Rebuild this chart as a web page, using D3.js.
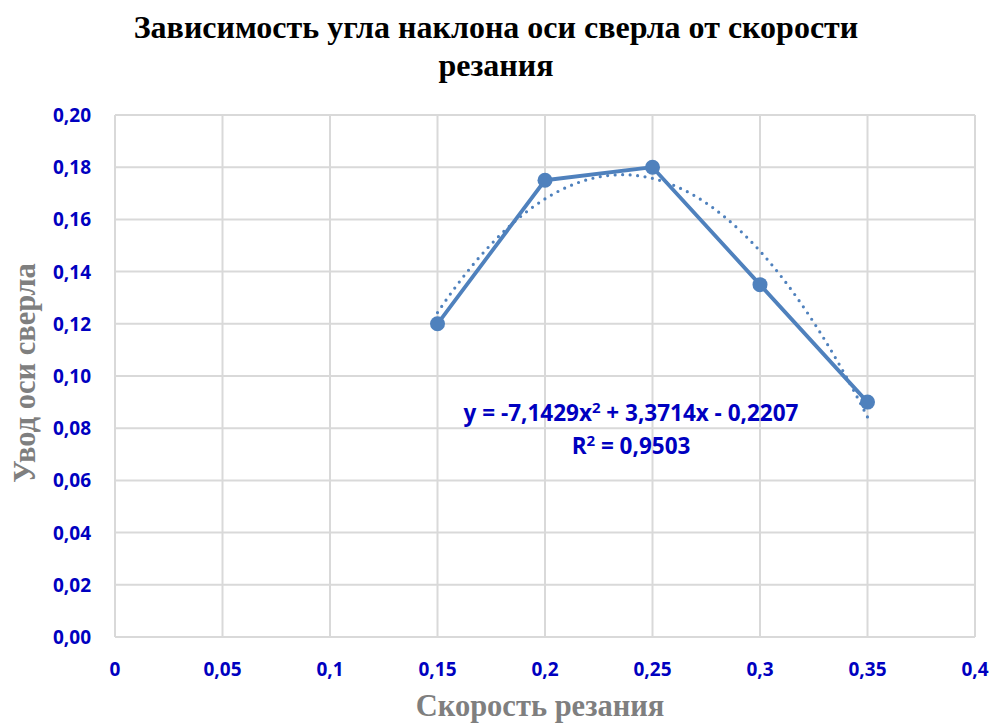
<!DOCTYPE html>
<html>
<head>
<meta charset="utf-8">
<script src="https://cdn.jsdelivr.net/npm/d3@7"></script>
<style>
  body { margin:0; background:#fff; }
  svg text { font-family:"Liberation Serif","Times New Roman",serif; }
  .tick-label { font-family:"Open Sans","Liberation Sans",sans-serif; font-weight:bold; font-size:19px; fill:#0000C0; }
</style>
</head>
<body>
<div class="main__area"></div>
<script>
// данные
const speeds=[0.15, 0.2, 0.25, 0.3, 0.35];
const drift=[0.12, 0.175, 0.18, 0.135, 0.09];
const xTicks=[0, 0.05, 0.1, 0.15, 0.2, 0.25, 0.3, 0.35, 0.4];
const xTickLabels=["0","0,05","0,1","0,15","0,2","0,25","0,3","0,35","0,4"];
const yTicks=[0, 0.02, 0.04, 0.06, 0.08, 0.1, 0.12, 0.14, 0.16, 0.18, 0.2];
const trendCoef=[-7.1429, 3.3714, -0.2207]; // a, b, c из подписи линии тренда
const trendLabels=["y = -7,1429x", "2", " + 3,3714x - 0,2207"];

const width=993;
const height=724;
const plotLeft=115, plotRight=975, plotTop=115, plotBottom=637;
const blue="#4F81BD";

const svgTag=d3.select(".main__area").append("svg")
    .attr("width", width)
    .attr("height", height);

const x=d3.scaleLinear().domain([0, 0.4]).range([plotLeft, plotRight]);
const y=d3.scaleLinear().domain([0, 0.2]).range([plotBottom, plotTop]);

// сетка
const grid=svgTag.append("g").attr("stroke", "#D9D9D9").attr("stroke-width", 2);
yTicks.forEach(t => {
    grid.append("line")
        .attr("x1", plotLeft).attr("x2", plotRight)
        .attr("y1", y(t)).attr("y2", y(t));
});
xTicks.forEach(t => {
    grid.append("line")
        .attr("x1", x(t)).attr("x2", x(t))
        .attr("y1", plotTop).attr("y2", plotBottom);
});

// подписи осей
yTicks.forEach(t => {
    svgTag.append("text")
        .attr("class", "tick-label")
        .attr("x", plotLeft-24).attr("y", y(t))
        .attr("text-anchor", "end")
        .attr("dominant-baseline", "central")
        .text(d3.format(".2f")(t).replace(".", ","));
});
xTicks.forEach((t, i) => {
    svgTag.append("text")
        .attr("class", "tick-label")
        .attr("x", x(t)).attr("y", plotBottom+32)
        .attr("text-anchor", "middle")
        .attr("dominant-baseline", "central")
        .text(xTickLabels[i]);
});

// линия тренда (полином 2-й степени)
const trendX=d3.range(0, 101).map(i => speeds[0] + (speeds[speeds.length-1]-speeds[0])*i/100);
const trendPts=trendX.map(v => [v, trendCoef[0]*v*v + trendCoef[1]*v + trendCoef[2]]);
svgTag.append("path")
    .datum(trendPts)
    .attr("fill", "none")
    .attr("stroke", blue)
    .attr("stroke-width", 3.2)
    .attr("stroke-linecap", "round")
    .attr("stroke-dasharray", "0,7.5")
    .attr("d", d3.line().x(d => x(d[0])).y(d => y(d[1])));

// основная линия
const pts=speeds.map((s, i) => [s, drift[i]]);
svgTag.append("path")
    .datum(pts)
    .attr("fill", "none")
    .attr("stroke", blue)
    .attr("stroke-width", 3.8)
    .attr("stroke-linejoin", "round")
    .attr("d", d3.line().x(d => x(d[0])).y(d => y(d[1])));

svgTag.append("g").selectAll("circle")
    .data(pts)
    .join("circle")
    .attr("cx", d => x(d[0]))
    .attr("cy", d => y(d[1]))
    .attr("r", 7.5)
    .attr("fill", blue);

// уравнение
const eq=svgTag.append("text")
    .attr("class", "tick-label")
    .attr("x", 631).attr("y", 421)
    .attr("text-anchor", "middle")
    .style("font-size", "22.5px");
eq.append("tspan").text(trendLabels[0]);
eq.append("tspan").attr("dy", -8).style("font-size", "15px").text(trendLabels[1]);
eq.append("tspan").attr("dy", 8).text(trendLabels[2]);

const r2=svgTag.append("text")
    .attr("class", "tick-label")
    .attr("x", 631).attr("y", 454)
    .attr("text-anchor", "middle")
    .style("font-size", "22.5px");
r2.append("tspan").text("R");
r2.append("tspan").attr("dy", -8).style("font-size", "15px").text("2");
r2.append("tspan").attr("dy", 8).text(" = 0,9503");

// заголовок
svgTag.append("text")
    .attr("x", 496).attr("y", 38)
    .attr("text-anchor", "middle")
    .attr("font-weight", "bold").attr("font-size", 32)
    .text("Зависимость угла наклона оси сверла от скорости");
svgTag.append("text")
    .attr("x", 496).attr("y", 76)
    .attr("text-anchor", "middle")
    .attr("font-weight", "bold").attr("font-size", 32)
    .text("резания");

// названия осей
svgTag.append("text")
    .attr("x", 540).attr("y", 716)
    .attr("text-anchor", "middle")
    .attr("font-weight", "bold").attr("font-size", 30.5)
    .attr("fill", "#7F7F7F")
    .text("Скорость резания");
svgTag.append("text")
    .attr("transform", "translate(35, 373) rotate(-90)")
    .attr("text-anchor", "middle")
    .attr("font-weight", "bold").attr("font-size", 30.5)
    .attr("fill", "#7F7F7F")
    .text("Увод оси сверла");
</script>
</body>
</html>
